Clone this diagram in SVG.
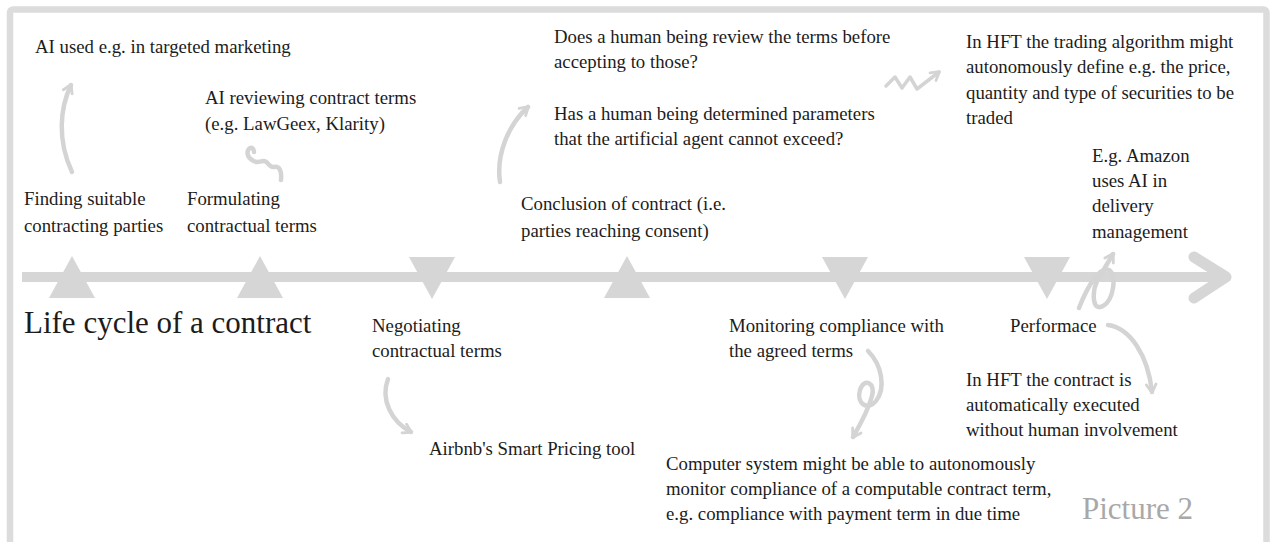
<svg xmlns="http://www.w3.org/2000/svg" width="1273" height="542" viewBox="0 0 1273 542">
<style>
.t{font-family:"Liberation Serif","Times New Roman",serif;font-size:18.8px;fill:#1c1c1c}
.big{font-family:"Liberation Serif","Times New Roman",serif;font-size:31px;fill:#1c1c1c}
.pic{font-family:"Liberation Serif","Times New Roman",serif;font-size:31px;fill:#a8a8a8}
.tri{fill:#d6d6d6}
.con{fill:none;stroke:#d4d4d4;stroke-width:4.5;stroke-linecap:round;stroke-linejoin:round}
.thin{stroke-width:3.5}
</style>
<defs>
<marker id="ah" viewBox="0 0 12 12" refX="9" refY="6" markerWidth="13" markerHeight="13" markerUnits="userSpaceOnUse" orient="auto">
<path d="M2,1.5 L9.5,6 L2,10.5" fill="none" stroke="#d4d4d4" stroke-width="2.6" stroke-linecap="round" stroke-linejoin="round"/>
</marker>
</defs>
<rect x="10" y="9.5" width="1256.5" height="600" rx="3" fill="#ffffff" stroke="#dcdcdc" stroke-width="6.5"/>
<g id="timeline">
<path d="M22,277 L1222,277" stroke="#d6d6d6" stroke-width="10" fill="none"/>
<path d="M1194,257 L1226,277 L1194,298" stroke="#d6d6d6" stroke-width="11" fill="none" stroke-linecap="round" stroke-linejoin="round"/>
</g>
<g id="title"><text class="big" x="24" y="333">Life cycle of a contract</text></g>
<g id="finding">
<polygon class="tri" points="49,298 72,256 95,298"/>
<text class="t" x="24" y="205">Finding suitable</text>
<text class="t" x="24" y="232">contracting parties</text>
</g>
<g id="formulating">
<polygon class="tri" points="237,298 260,256 283,298"/>
<text class="t" x="187" y="205">Formulating</text>
<text class="t" x="187" y="232">contractual terms</text>
</g>
<g id="negotiating">
<polygon class="tri" points="409,257 455,257 432,299"/>
<text class="t" x="372" y="332">Negotiating</text>
<text class="t" x="372" y="357">contractual terms</text>
</g>
<g id="conclusion">
<polygon class="tri" points="604,298 627,256 650,298"/>
<text class="t" x="521" y="210">Conclusion of contract (i.e.</text>
<text class="t" x="521" y="237">parties reaching consent)</text>
</g>
<g id="monitoring">
<polygon class="tri" points="822,257 868,257 845,299"/>
<text class="t" x="729" y="332">Monitoring compliance with</text>
<text class="t" x="729" y="357">the agreed terms</text>
</g>
<g id="performance">
<polygon class="tri" points="1024,257 1070,257 1047,299"/>
<text class="t" x="1010" y="332">Performace</text>
</g>
<g id="note-marketing"><text class="t" x="35" y="53">AI used e.g. in targeted marketing</text></g>
<g id="note-review">
<text class="t" x="205" y="104">AI reviewing contract terms</text>
<text class="t" x="205" y="130">(e.g. LawGeex, Klarity)</text>
</g>
<g id="note-questions">
<text class="t" x="554" y="43">Does a human being review the terms before</text>
<text class="t" x="554" y="68">accepting to those?</text>
<text class="t" x="554" y="120">Has a human being determined parameters</text>
<text class="t" x="554" y="145">that the artificial agent cannot exceed?</text>
</g>
<g id="note-hft-trading">
<text class="t" x="966" y="48">In HFT the trading algorithm might</text>
<text class="t" x="966" y="73">autonomously define e.g. the price,</text>
<text class="t" x="966" y="99">quantity and type of securities to be</text>
<text class="t" x="966" y="124">traded</text>
</g>
<g id="note-amazon">
<text class="t" x="1092" y="162">E.g. Amazon</text>
<text class="t" x="1092" y="187">uses AI in</text>
<text class="t" x="1092" y="212">delivery</text>
<text class="t" x="1092" y="238">management</text>
</g>
<g id="note-airbnb"><text class="t" x="429" y="455">Airbnb's Smart Pricing tool</text></g>
<g id="note-monitor">
<text class="t" x="666" y="470">Computer system might be able to autonomously</text>
<text class="t" x="666" y="495">monitor compliance of a computable contract term,</text>
<text class="t" x="666" y="520">e.g. compliance with payment term in due time</text>
</g>
<g id="note-hft-exec">
<text class="t" x="966" y="386">In HFT the contract is</text>
<text class="t" x="966" y="411">automatically executed</text>
<text class="t" x="966" y="436">without human involvement</text>
</g>
<g id="caption"><text class="pic" x="1082" y="519">Picture 2</text></g>
<g id="connectors">
<path class="con" d="M72,172 C57,140 60,108 71,85" marker-end="url(#ah)"/>
<path class="con" d="M281,180 C282,170 279,166 274,167 C269,168 268,161 264,161 C259,161 257,164 252,160 C247,157 246,151 250,148 C252,147 254,149 254,152"/>
<path class="con" d="M500,182 C496,155 508,125 528,107" marker-end="url(#ah)"/>
<path class="con thin" d="M886,86 L895,77 L902,88 L910,77 L917,89 L939,72" marker-end="url(#ah)"/>
<path class="con" d="M1079,308 C1088,285 1100,266 1109,270 C1117,274 1114,300 1103,306 C1092,312 1092,292 1097,281 L1113,254" marker-end="url(#ah)"/>
<path class="con" d="M868,351 C882,365 886,388 876,401 C868,411 856,404 860,390 C864,377 876,383 872,396 C868,411 860,425 853,437" marker-end="url(#ah)"/>
<path class="con" d="M388,379 C380,400 392,422 411,432" marker-end="url(#ah)"/>
<path class="con" d="M1108,325 C1130,328 1148,355 1152,392" marker-end="url(#ah)"/>
</g>
</svg>
